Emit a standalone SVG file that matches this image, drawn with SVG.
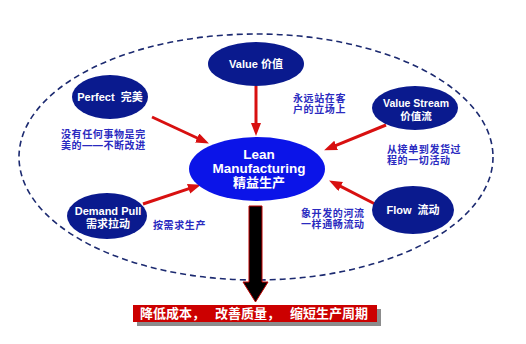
<svg xmlns="http://www.w3.org/2000/svg" width="526" height="344" viewBox="0 0 526 344">
<style>
.node{fill:#0a1a8e;}
.center{fill:#0b14e8;}
.nt{font-family:"Liberation Sans","Noto Sans CJK SC",sans-serif;font-weight:bold;fill:#ffffff;text-anchor:middle;}
.lbl{font-family:"Liberation Sans","Noto Sans CJK SC",sans-serif;font-weight:bold;font-size:10px;letter-spacing:0.6px;fill:#2a2ac0;}
.arr{stroke:#d81010;stroke-width:3;fill:none;marker-end:url(#ah);}
</style>
<defs>
<marker id="ah" markerUnits="userSpaceOnUse" markerWidth="13" markerHeight="11" refX="6" refY="5" orient="auto">
<path d="M0,0 L13,5 L0,10 z" fill="#d81010"/>
</marker>
</defs>
<rect width="526" height="344" fill="#ffffff"/>
<ellipse id="boundary" cx="256" cy="157" rx="237" ry="123" fill="none" stroke="#1c2a70" stroke-width="1.6" stroke-dasharray="6,4"/>
<g id="connectors">
<line class="arr" x1="256" y1="86" x2="256" y2="129"/>
<line class="arr" x1="152" y1="117" x2="202.6" y2="140.5"/>
<line class="arr" x1="386" y1="125" x2="330.6" y2="147.7"/>
<line class="arr" x1="143" y1="204" x2="194.3" y2="186.9"/>
<line class="arr" x1="375" y1="204" x2="335.3" y2="183.7"/>
<polygon id="result-arrow" points="249,206 262,206 262,282 268,282 255.5,302 243,282 249,282" fill="#000000" stroke="#c00000" stroke-width="1"/>
</g>
<g id="value">
<ellipse class="node" cx="256" cy="64" rx="48" ry="22"/>
<text class="nt" x="256" y="68" font-size="11">Value 价值</text>
</g>
<g id="perfect">
<ellipse class="node" cx="110" cy="97" rx="38" ry="22"/>
<text class="nt" x="110" y="101" font-size="11">Perfect&#160; 完美</text>
</g>
<g id="value-stream">
<ellipse class="node" cx="415" cy="108" rx="43" ry="22"/>
<text class="nt" x="416" y="107" font-size="10.5">Value Stream</text>
<text class="nt" x="416" y="120" font-size="10.5">价值流</text>
</g>
<g id="demand-pull">
<ellipse class="node" cx="107" cy="216" rx="40" ry="23"/>
<text class="nt" x="108" y="215" font-size="11">Demand Pull</text>
<text class="nt" x="108" y="228" font-size="11">需求拉动</text>
</g>
<g id="flow">
<ellipse class="node" cx="413" cy="210" rx="41" ry="24"/>
<text class="nt" x="413" y="214" font-size="11">Flow&#160; 流动</text>
</g>
<g id="lean">
<ellipse class="center" cx="257" cy="169" rx="68" ry="32"/>
<text class="nt" x="259" y="159" font-size="13.5">Lean</text>
<text class="nt" x="259" y="173" font-size="13.5">Manufacturing</text>
<text class="nt" x="259" y="187" font-size="13">精益生产</text>
</g>
<g id="labels">
<text class="lbl" y="138"><tspan x="61">没有任何事物是完</tspan><tspan x="61" dy="11.3">美的——不断改进</tspan></text>
<text class="lbl" y="102"><tspan x="293">永远站在客</tspan><tspan x="293" dy="11.3">户的立场上</tspan></text>
<text class="lbl" y="153"><tspan x="387">从接单到发货过</tspan><tspan x="387" dy="11.3">程的一切活动</tspan></text>
<text class="lbl" x="153" y="229">按需求生产</text>
<text class="lbl" y="217"><tspan x="301">象开发的河流</tspan><tspan x="301" dy="11.3">一样通畅流动</tspan></text>
</g>
<g id="result">
<rect x="137" y="309" width="244" height="17" fill="#8c8c8c"/>
<rect x="133" y="305" width="244" height="17" fill="#cc0000"/>
<text class="nt" font-size="13" style="text-anchor:start" y="318"><tspan x="140">降低成本，</tspan><tspan x="215">改善质量，</tspan><tspan x="290">缩短生产周期</tspan></text>
</g>
</svg>
